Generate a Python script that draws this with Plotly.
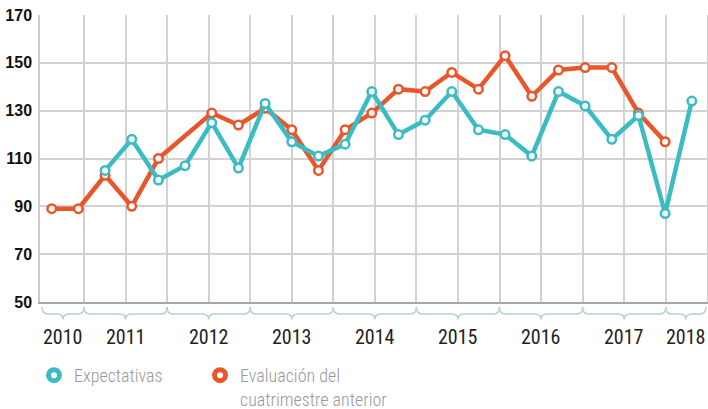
import plotly.graph_objects as go

# ---- data ----
periods = list(range(25))  # cuatrimestres, 2010 .. 2018
expectativas = [None, None, 105, 118, 101, 107, 125, 106, 133, 117, 111, 116, 138,
                120, 126, 138, 122, 120, 111, 138, 132, 118, 128, 87, 134]
evaluacion = [89, 89, 103, 90, 110, None, 129, 124, 131, 122, 105, 122, 129,
              139, 138, 146, 139, 153, 136, 147, 148, 148, 129, 117, None]
year_labels = ["2010", "2011", "2012", "2013", "2014", "2015", "2016", "2017", "2018"]
y_ticks = [50, 70, 90, 110, 130, 150, 170]

TEAL = "#3bbcc4"
ORANGE = "#e8562a"
W, H = 708, 409
PL, PT, PR, PB = 40, 15, 707, 302   # plot area in window pixels
PW, PH = PR - PL, PB - PT
X0, X1 = -0.44, 24.57
COND = "Roboto Condensed, Liberation Sans Narrow, DejaVu Sans Condensed, sans-serif"

def px2x(px):
    return X0 + (px - PL) / PW * (X1 - X0)

def px2paper(px):
    return (px - PL) / PW

def py2paper(py):
    return (PB - py) / PH

grid_px = [84 + k * 41.55 for k in range(15)]
grid_vals = [px2x(p) for p in grid_px]
bounds_px = [42] + grid_px[0::2] + [706]

fig = go.Figure()
fig.add_trace(go.Scatter(
    x=periods, y=evaluacion, mode="lines+markers", connectgaps=True,
    line=dict(color=ORANGE, width=4.5),
    marker=dict(symbol="circle", size=8.5, color="white", line=dict(color=ORANGE, width=2.5)),
    showlegend=False, name="Evaluación del cuatrimestre anterior"))
fig.add_trace(go.Scatter(
    x=periods, y=expectativas, mode="lines+markers",
    line=dict(color=TEAL, width=4.5),
    marker=dict(symbol="circle", size=8.5, color="white", line=dict(color=TEAL, width=2.5)),
    showlegend=False, name="Expectativas"))

# legend entries
fig.add_trace(go.Scatter(x=[None], y=[None], mode="markers", name="Expectativas",
                         legend="legend",
                         marker=dict(size=11, color="white", line=dict(color=TEAL, width=5))))
fig.add_trace(go.Scatter(x=[None], y=[None], mode="markers",
                         name="Evaluación del<br>cuatrimestre anterior", legend="legend2",
                         marker=dict(size=11, color="white", line=dict(color=ORANGE, width=5))))

# braces and year labels
shapes = []
annotations = []
y0p, y1p, y2p = py2paper(307), py2paper(314), py2paper(319.5)
for i, lab in enumerate(year_labels):
    a, b = bounds_px[i], bounds_px[i + 1]
    m = (a + b) / 2
    r = 6
    pts = lambda p: f"{px2paper(p):.5f}"
    path = (f"M {pts(a)},{y0p:.5f} Q {pts(a)},{y1p:.5f} {pts(a + r)},{y1p:.5f} "
            f"L {pts(m - r)},{y1p:.5f} Q {pts(m)},{y1p:.5f} {pts(m)},{y2p:.5f} "
            f"Q {pts(m)},{y1p:.5f} {pts(m + r)},{y1p:.5f} "
            f"L {pts(b - r)},{y1p:.5f} Q {pts(b)},{y1p:.5f} {pts(b)},{y0p:.5f}")
    shapes.append(dict(type="path", path=path, xref="paper", yref="paper",
                       line=dict(color="#b9d0d0", width=1.5)))
    annotations.append(dict(text=lab, x=px2paper(m), y=py2paper(337), xref="paper", yref="paper",
                            showarrow=False, xanchor="center", yanchor="middle",
                            font=dict(family=COND, size=20, color="#222222")))

legend_common = dict(orientation="h", xref="container", yref="container",
                     xanchor="left", yanchor="top", valign="top",
                     font=dict(family=COND, size=18, color="#999999", weight=300),
                     bgcolor="rgba(0,0,0,0)")

fig.update_layout(
    width=W, height=H,
    margin=dict(l=PL, r=W - PR, t=PT, b=H - PB, autoexpand=False),
    plot_bgcolor="white", paper_bgcolor="white",
    shapes=shapes, annotations=annotations,
    showlegend=True,
    legend=dict(x=34 / W, y=(H - 357) / H, **legend_common),
    legend2=dict(x=200 / W, y=(H - 357) / H, **legend_common),
    xaxis=dict(range=[X0, X1], tickvals=grid_vals, showticklabels=False, ticks="",
               showgrid=True, gridcolor="#d2d2d2", gridwidth=1.5, zeroline=False,
               showline=True, linecolor="#a8a8a8", linewidth=2, fixedrange=True),
    yaxis=dict(range=[50, 170], tickvals=y_ticks, showgrid=True, gridcolor="#d2d2d2",
               gridwidth=1.5, zeroline=False, showline=True, mirror=True,
               linecolor="#cccccc", linewidth=1.5, ticks="", ticklabelstandoff=3,
               ticklabeloverflow="allow",
               tickfont=dict(family="Liberation Sans, Arial, sans-serif", size=16,
                             color="#111111", weight="bold"), fixedrange=True),
)

fig.write_html("out.html", post_script="document.body.style.margin='0px';",
               config={"displayModeBar": False})
